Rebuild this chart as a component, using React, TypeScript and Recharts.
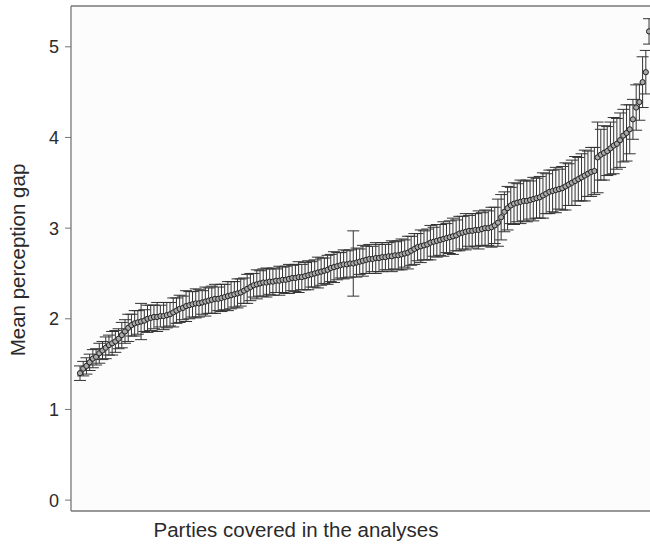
import { ScatterChart, Scatter, XAxis, YAxis, ErrorBar, ReferenceLine, CartesianGrid } from 'recharts'

// mean perception gap per party, sorted ascending
const gaps = [
  1.40, 1.45, 1.48, 1.52, 1.56, 1.58, 1.62, 1.65, 1.68, 1.71,
  1.73, 1.75, 1.78, 1.82, 1.86, 1.90, 1.93, 1.95, 1.96, 1.97,
  1.98, 2.00, 2.01, 2.02, 2.02, 2.03, 2.03, 2.04, 2.05, 2.07,
  2.09, 2.11, 2.12, 2.14, 2.15, 2.16, 2.17, 2.17, 2.18, 2.19,
  2.20, 2.21, 2.22, 2.22, 2.23, 2.24, 2.25, 2.26, 2.27, 2.28,
  2.29, 2.31, 2.33, 2.35, 2.37, 2.38, 2.39, 2.40, 2.40, 2.41,
  2.41, 2.42, 2.42, 2.43, 2.43, 2.44, 2.45, 2.45, 2.46, 2.46,
  2.47, 2.48, 2.49, 2.50, 2.51, 2.52, 2.53, 2.54, 2.56, 2.57,
  2.58, 2.59, 2.60, 2.60, 2.61, 2.61, 2.62, 2.63, 2.64, 2.65,
  2.66, 2.66, 2.67, 2.67, 2.68, 2.68, 2.69, 2.69, 2.70, 2.70,
  2.71, 2.72, 2.73, 2.75, 2.77, 2.79, 2.80, 2.81, 2.82, 2.84,
  2.85, 2.86, 2.87, 2.88, 2.89, 2.90, 2.91, 2.92, 2.94, 2.95,
  2.96, 2.97, 2.97, 2.98, 2.98, 2.99, 3.00, 3.00, 3.01, 3.03,
  3.06, 3.12, 3.18, 3.22, 3.25, 3.27, 3.28, 3.29, 3.30, 3.30,
  3.31, 3.32, 3.33, 3.34, 3.36, 3.38, 3.40, 3.41, 3.42, 3.43,
  3.44, 3.46, 3.48, 3.50, 3.52, 3.54, 3.56, 3.58, 3.60, 3.62,
  3.63, 3.78, 3.81, 3.83, 3.85, 3.88, 3.91, 3.93, 3.97, 4.02,
  4.05, 4.09, 4.20, 4.33, 4.39, 4.61, 4.72, 5.17,
]

// half-width of each error bar
const errs = [
  0.08, 0.08, 0.09, 0.09, 0.10, 0.09, 0.11, 0.10, 0.12, 0.11,
  0.13, 0.12, 0.11, 0.14, 0.13, 0.15, 0.12, 0.14, 0.13, 0.20,
  0.12, 0.15, 0.14, 0.13, 0.16, 0.12, 0.15, 0.14, 0.13, 0.16,
  0.14, 0.15, 0.13, 0.17, 0.15, 0.14, 0.16, 0.15, 0.13, 0.16,
  0.14, 0.15, 0.16, 0.13, 0.15, 0.14, 0.16, 0.15, 0.14, 0.16,
  0.15, 0.14, 0.16, 0.15, 0.13, 0.16, 0.14, 0.15, 0.16, 0.14,
  0.15, 0.13, 0.16, 0.14, 0.15, 0.16, 0.14, 0.15, 0.17, 0.14,
  0.15, 0.16, 0.14, 0.15, 0.17, 0.15, 0.14, 0.16, 0.15, 0.17,
  0.15, 0.14, 0.16, 0.15, 0.15, 0.36, 0.16, 0.14, 0.17, 0.15,
  0.16, 0.14, 0.17, 0.15, 0.16, 0.14, 0.15, 0.17, 0.15, 0.16,
  0.17, 0.15, 0.18, 0.16, 0.17, 0.15, 0.18, 0.16, 0.17, 0.19,
  0.16, 0.18, 0.17, 0.19, 0.16, 0.18, 0.20, 0.17, 0.19, 0.18,
  0.20, 0.17, 0.19, 0.18, 0.21, 0.18, 0.20, 0.19, 0.22, 0.20,
  0.26, 0.25, 0.22, 0.24, 0.20, 0.23, 0.21, 0.24, 0.22, 0.23,
  0.21, 0.24, 0.22, 0.23, 0.25, 0.22, 0.24, 0.23, 0.25, 0.22,
  0.24, 0.26, 0.23, 0.25, 0.27, 0.24, 0.26, 0.28, 0.25, 0.27,
  0.26, 0.39, 0.28, 0.30, 0.27, 0.29, 0.31, 0.28, 0.30, 0.29,
  0.31, 0.27, 0.22, 0.25, 0.20, 0.28, 0.24, 0.14,
]

const yTicks = [0, 1, 2, 3, 4, 5]

const data = gaps.map((g, i) => ({ idx: i, gap: g, err: errs[i] }))

const font = 'Liberation Sans, Arial, sans-serif'
const ink = '#2a2a2a'
const axisGray = '#777'

const Dot = (props: any) => (
  <circle cx={props.cx} cy={props.cy} r={2.6} fill="#aaa" stroke="#222" strokeWidth={1} />
)

export default function App() {
  return (
    <div style={{ position: 'absolute', left: 0, top: 0, width: 650, height: 545, background: '#fff' }}>
      <ScatterChart width={650} height={545} margin={{ top: 6, right: 0, bottom: 0, left: 0 }}>
        <CartesianGrid fill="#fcfcfc" horizontal={false} vertical={false} />
        <XAxis
          type="number"
          dataKey="idx"
          domain={[-2.8, 177.3]}
          allowDataOverflow
          tick={false}
          tickLine={false}
          height={34}
          axisLine={{ stroke: axisGray, strokeWidth: 1.3 }}
          label={{
            content: () => (
              <text x={296} y={537} textAnchor="middle" fontFamily={font} fontSize={20.5} fill={ink}>
                Parties covered in the analyses
              </text>
            ),
          }}
        />
        <YAxis
          type="number"
          dataKey="gap"
          domain={[-0.12, 5.45]}
          allowDataOverflow
          ticks={yTicks}
          width={71}
          tickSize={6}
          tickMargin={6}
          tick={{ fill: ink, fontSize: 18, fontFamily: font }}
          tickLine={{ stroke: axisGray }}
          axisLine={{ stroke: axisGray, strokeWidth: 1.3 }}
          label={{
            content: () => (
              <text
                x={25}
                y={260}
                transform="rotate(-90 25 260)"
                textAnchor="middle"
                fontFamily={font}
                fontSize={20.5}
                fill={ink}
              >
                Mean perception gap
              </text>
            ),
          }}
        />
        <ReferenceLine y={5.45} stroke={axisGray} strokeWidth={1.3} />
        <Scatter data={data} shape={Dot} isAnimationActive={false}>
          <ErrorBar dataKey="err" direction="y" width={6} stroke="#333" strokeWidth={1} />
        </Scatter>
      </ScatterChart>
    </div>
  )
}
